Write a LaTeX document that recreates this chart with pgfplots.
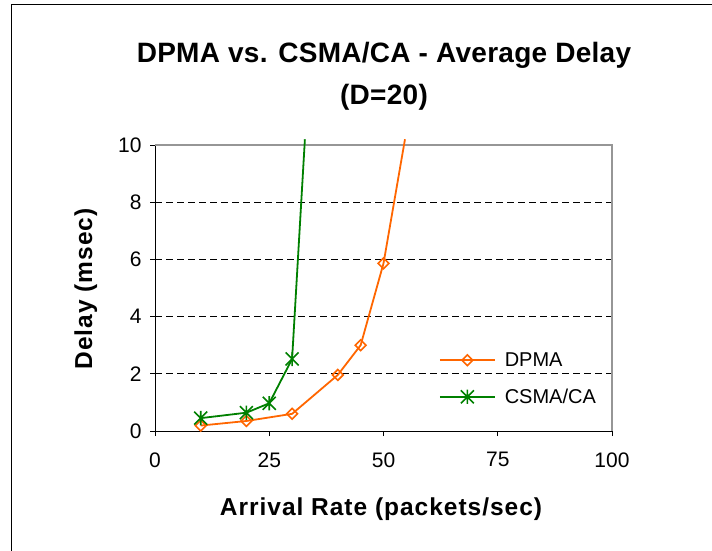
\documentclass[border=0pt]{standalone}
\usepackage{fontspec}
\setmainfont{Liberation Sans}
\usepackage{pgfplots}
\pgfplotsset{compat=1.18}

\definecolor{dpma}{RGB}{255,102,0}
\definecolor{csma}{RGB}{0,128,0}
\definecolor{framegray}{RGB}{150,150,150}

% Excel-style star: an X crossed by a vertical bar
\pgfdeclareplotmark{xlstar}{%
  \pgfpathmoveto{\pgfqpoint{0pt}{1.1\pgfplotmarksize}}%
  \pgfpathlineto{\pgfqpoint{0pt}{-1.1\pgfplotmarksize}}%
  \pgfpathmoveto{\pgfqpoint{-\pgfplotmarksize}{\pgfplotmarksize}}%
  \pgfpathlineto{\pgfqpoint{\pgfplotmarksize}{-\pgfplotmarksize}}%
  \pgfpathmoveto{\pgfqpoint{-\pgfplotmarksize}{-\pgfplotmarksize}}%
  \pgfpathlineto{\pgfqpoint{\pgfplotmarksize}{\pgfplotmarksize}}%
  \pgfusepathqstroke}

\begin{document}
\begin{tikzpicture}[x=1pt,y=1pt]
\path[use as bounding box] (0,0) rectangle (712,550);
% chart area frame
\begin{scope}
  \clip (0,0) rectangle (712,550);
  \draw[black, line width=1pt] (11,-10) -- (11,545) -- (730,545);
\end{scope}

% title
\node[font=\bfseries\fontsize{28}{32}\selectfont\addfontfeature{LetterSpace=1}, anchor=base] at (384,487) {DPMA vs. CSMA/CA - Average Delay};
\node[font=\bfseries\fontsize{28}{32}\selectfont\addfontfeature{LetterSpace=1}, anchor=base] at (384,445) {(D=20)};

\begin{axis}[
  at={(155pt,119pt)}, anchor=south west,
  scale only axis, width=457pt, height=286pt,
  xmin=0, xmax=100, ymin=0, ymax=10,
  xtick={0,25,50,75,100},
  ytick={0,2,4,6,8,10},
  extra y ticks={2,4,6,8},
  extra y tick style={grid=major, tick style={draw=none}, yticklabels={}},
  major grid style={black, line width=0.8pt, dash pattern=on 7pt off 4pt},
  axis lines=left,
  axis line style={-, black, line width=1pt},
  tick align=outside,
  major tick length=5pt,
  tick style={black, line width=0.8pt},
  ticklabel style={font=\fontsize{21}{24}\selectfont},
  /pgf/number format/assume math mode=true,
  xticklabel style={yshift=-13pt},
  yticklabel style={xshift=-5pt},
  clip=false,
  legend style={at={(rel axis cs:0.621,0.183)}, anchor=west, draw=none, fill=none,
    font=\fontsize{20}{24}\selectfont, row sep=17pt, inner sep=0pt,
    cells={anchor=west},
    /tikz/every odd column/.append style={column sep=7pt}},
  legend image code/.code={%
    \draw[#1] (0pt,0pt) -- (55pt,0pt);
    \draw[#1] plot coordinates {(27.5pt,0pt)};},
]
\draw[framegray, line width=1.5pt] (rel axis cs:0,1) -- (rel axis cs:1,1) -- (rel axis cs:1,0);

\addplot[dpma, line width=1.8pt, mark=square, mark size=3.8pt,
  mark options={rotate=45, fill=white, solid, line width=1.6pt}, mark indices={1,2,3,4,5,6}]
  coordinates {(10,0.19) (20,0.35) (30,0.60) (40,1.96) (45,3.00) (50,5.86) (54.7,10.2)};
\addlegendentry{DPMA}

\addplot[csma, line width=1.8pt, mark=xlstar, mark size=6.5pt,
  mark options={solid, line width=1.6pt}, mark indices={1,2,3,4}]
  coordinates {(10,0.45) (20,0.64) (25,0.97) (30,2.52) (32.8,10.2)};
\addlegendentry{CSMA/CA}
\end{axis}

% axis titles
\node[font=\bfseries\fontsize{24.5}{28}\selectfont\addfontfeature{LetterSpace=4}, anchor=base] at (381,35) {Arrival Rate (packets/sec)};
\node[font=\bfseries\fontsize{24.5}{28}\selectfont\addfontfeature{LetterSpace=4}, anchor=base, rotate=90] at (92,261) {Delay (msec)};
\end{tikzpicture}
\end{document}
